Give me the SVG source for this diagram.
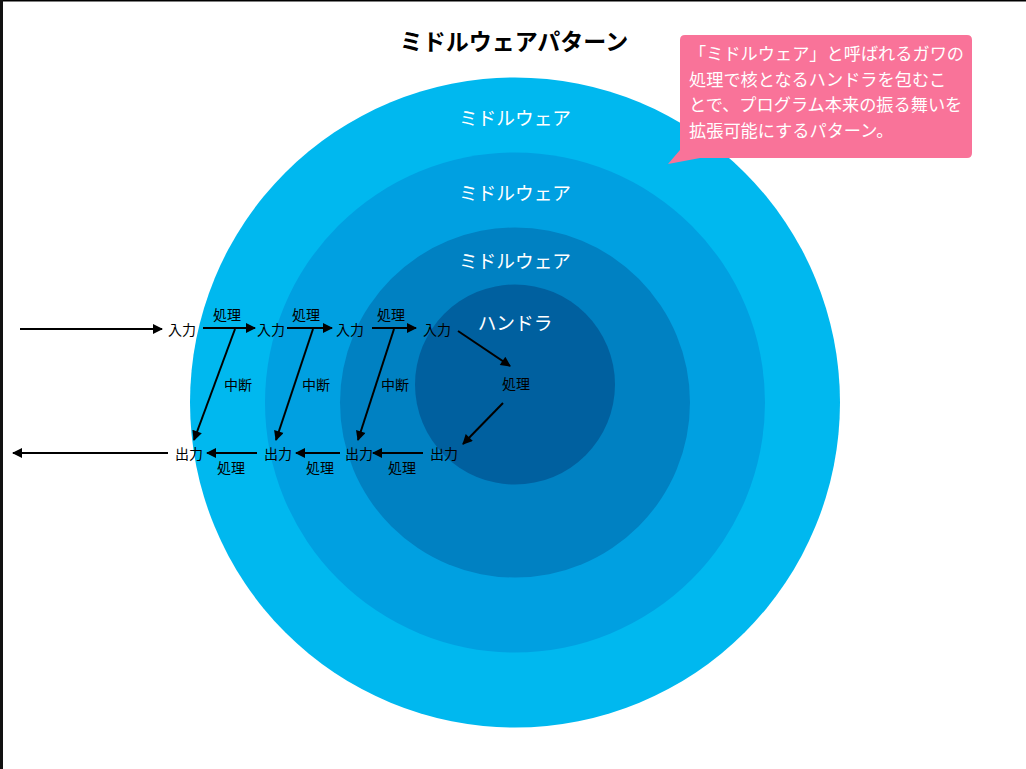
<svg xmlns="http://www.w3.org/2000/svg" width="1026" height="769" viewBox="0 0 1026 769">
<style>
text{font-family:"Noto Sans CJK JP","Noto Sans CJK SC",sans-serif;}
.lbl{font-size:14px;fill:#000;text-anchor:middle;dominant-baseline:central;}
.ring{font-size:18.7px;fill:#fff;text-anchor:middle;dominant-baseline:central;}
.note{font-size:17.2px;fill:#fff;}
.ar{stroke:#000;stroke-width:2;fill:none;marker-end:url(#ah);}
</style>
<defs>
<marker id="ah" viewBox="0 0 10 10" refX="9" refY="5" markerWidth="6" markerHeight="5" markerUnits="strokeWidth" orient="auto">
<path d="M0,0 L10,5 L0,10 z" fill="#000"/>
</marker>
</defs>
<rect width="1026" height="769" fill="#fff"/>
<rect x="0" y="0" width="1026" height="1.5" fill="#000"/>
<rect x="0" y="0" width="3" height="769" fill="#111"/>
<g id="title"><text x="514" y="40" font-size="23" font-weight="bold" text-anchor="middle" dominant-baseline="central" fill="#000">ミドルウェアパターン</text></g>
<g id="ring1"><circle cx="515" cy="402.5" r="325" fill="#00b8ef"/><text class="ring" x="515" y="116">ミドルウェア</text></g>
<g id="ring2"><circle cx="515" cy="402.5" r="250" fill="#00a0e1"/><text class="ring" x="515" y="191">ミドルウェア</text></g>
<g id="ring3"><circle cx="515" cy="402.5" r="175" fill="#0081c2"/><text class="ring" x="515" y="259">ミドルウェア</text></g>
<g id="handler"><circle cx="515" cy="384.5" r="100" fill="#00609f"/><text class="ring" x="515" y="321">ハンドラ</text></g>
<g id="callout">
<path d="M685,35 H967 Q972,35 972,40 V153 Q972,158 967,158 H700 L668,164 L680,150 V40 Q680,35 685,35 Z" fill="#f97399"/>
<text class="note" x="689" y="60">「ミドルウェア」と呼ばれるガワの</text>
<text class="note" x="689" y="86">処理で核となるハンドラを包むこ</text>
<text class="note" x="689" y="111">とで、プログラム本来の振る舞いを</text>
<text class="note" x="689" y="137">拡張可能にするパターン。</text>
</g>
<g id="labels">
<text class="lbl" x="182" y="329">入力</text>
<text class="lbl" x="271" y="329">入力</text>
<text class="lbl" x="350" y="329">入力</text>
<text class="lbl" x="437" y="329">入力</text>
<text class="lbl" x="227" y="314">処理</text>
<text class="lbl" x="306" y="314">処理</text>
<text class="lbl" x="391" y="314">処理</text>
<text class="lbl" x="516" y="383">処理</text>
<text class="lbl" x="189" y="453">出力</text>
<text class="lbl" x="278" y="453">出力</text>
<text class="lbl" x="359" y="453">出力</text>
<text class="lbl" x="444" y="453">出力</text>
<text class="lbl" x="231" y="467">処理</text>
<text class="lbl" x="320" y="467">処理</text>
<text class="lbl" x="402" y="467">処理</text>
<text class="lbl" x="238" y="384">中断</text>
<text class="lbl" x="316" y="384">中断</text>
<text class="lbl" x="395" y="384">中断</text>
</g>
<g id="connectors">
<line class="ar" x1="20" y1="329" x2="162" y2="329"/>
<line class="ar" x1="203" y1="328" x2="255" y2="328"/>
<line class="ar" x1="287" y1="328" x2="332" y2="328"/>
<line class="ar" x1="372" y1="328" x2="416" y2="328"/>
<line class="ar" x1="458" y1="331" x2="510" y2="366"/>
<line class="ar" x1="503" y1="403" x2="463" y2="444"/>
<line class="ar" x1="423" y1="453" x2="373" y2="453"/>
<line class="ar" x1="340" y1="453" x2="296" y2="453"/>
<line class="ar" x1="257" y1="453" x2="207" y2="453"/>
<line class="ar" x1="168" y1="453" x2="13" y2="453"/>
<line class="ar" x1="235" y1="329" x2="194" y2="440"/>
<line class="ar" x1="313" y1="329" x2="276" y2="440"/>
<line class="ar" x1="394" y1="329" x2="358" y2="440"/>
</g>
</svg>
